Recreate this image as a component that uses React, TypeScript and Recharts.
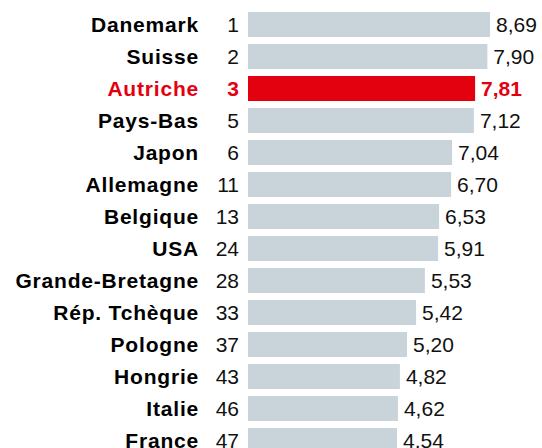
import { BarChart, Bar, XAxis, YAxis, Cell, LabelList } from 'recharts'

const countries = [
  'Danemark', 'Suisse', 'Autriche', 'Pays-Bas', 'Japon', 'Allemagne', 'Belgique',
  'USA', 'Grande-Bretagne', 'Rép. Tchèque', 'Pologne', 'Hongrie', 'Italie', 'France',
]
const ranks = [1, 2, 3, 5, 6, 11, 13, 24, 28, 33, 37, 43, 46, 47]
const scores = [8.69, 7.9, 7.81, 7.12, 7.04, 6.7, 6.53, 5.91, 5.53, 5.42, 5.2, 4.82, 4.62, 4.54]
// bar lengths as drawn in the picture (not proportional to the printed score)
const barLengths = [9.88, 9.77, 9.27, 9.22, 8.33, 8.29, 7.8, 7.76, 7.22, 6.86, 6.49, 6.2, 6.12, 6.08]
const highlight = 'Autriche'

const data = countries.map((country, i) => ({
  country,
  rank: ranks[i],
  score: scores[i],
  bar: barLengths[i],
}))

const GREY = '#c8d3da'
const RED = '#e3000f'
const FONT = '"Liberation Sans", Arial, Helvetica, sans-serif'

const fmt = (v: number) => v.toFixed(2).replace('.', ',')

function CountryTick(props: any) {
  const { x, y, payload, index } = props
  const row = data[index]
  const hot = payload.value === highlight
  return (
    <g>
      <text
        x={x - 49}
        y={y}
        textAnchor="end"
        dominantBaseline="central"
        fontFamily={FONT}
        fontSize={21}
        fontWeight={700}
        letterSpacing={0.8}
        fill={hot ? RED : '#000'}
      >
        {payload.value}
      </text>
      <text
        x={x - 9}
        y={y}
        textAnchor="end"
        dominantBaseline="central"
        fontFamily={FONT}
        fontSize={21}
        fontWeight={hot ? 700 : 400}
        fill={hot ? RED : '#111'}
      >
        {row ? row.rank : ''}
      </text>
    </g>
  )
}

function ScoreLabel(props: any) {
  const { x, y, width, height, index } = props
  const row = data[index]
  if (!row) return null
  const hot = row.country === highlight
  return (
    <text
      x={x + width + 6}
      y={y + height / 2}
      dominantBaseline="central"
      fontFamily={FONT}
      fontSize={21}
      fontWeight={hot ? 700 : 400}
      fill={hot ? RED : '#111'}
    >
      {fmt(row.score)}
    </text>
  )
}

export default function App() {
  return (
    <div
      style={{
        position: 'fixed',
        top: 0,
        left: 0,
        width: 542,
        height: 448,
        overflow: 'hidden',
        background: '#fff',
      }}
    >
      <BarChart
        width={542}
        height={456}
        data={data}
        layout="vertical"
        margin={{ top: 8, right: 0, bottom: 0, left: 8 }}
      >
        <XAxis type="number" domain={[0, 12]} hide />
        <YAxis
          type="category"
          dataKey="country"
          width={240}
          axisLine={false}
          tickLine={false}
          tickSize={0}
          tickMargin={0}
          interval={0}
          tick={<CountryTick />}
        />
        <Bar dataKey="bar" barSize={25} isAnimationActive={false}>
          {data.map((d, i) => (
            <Cell key={`c-${i}`} fill={d.country === highlight ? RED : GREY} />
          ))}
          <LabelList dataKey="score" content={<ScoreLabel />} />
        </Bar>
      </BarChart>
    </div>
  )
}
